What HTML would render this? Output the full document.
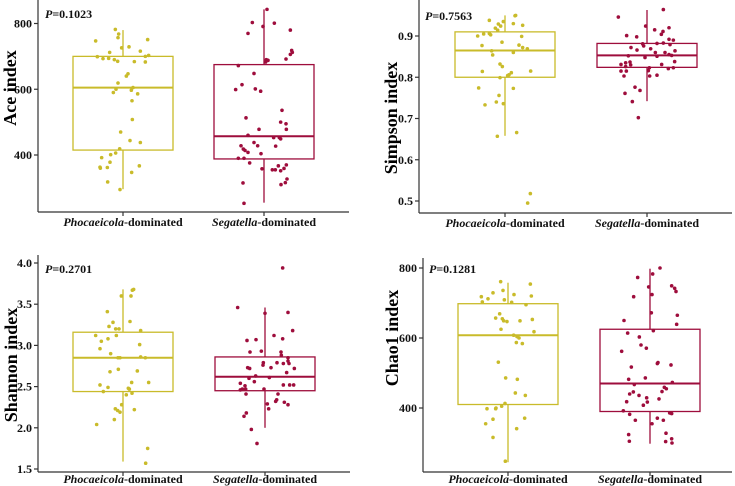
<!DOCTYPE html>
<html><head><meta charset="utf-8">
<style>
html,body{margin:0;padding:0;background:#fff;}
svg{display:block;font-family:"Liberation Serif",serif;}
.tk{font-size:12px;font-weight:bold;fill:#111;}
.yt{font-size:18px;font-weight:bold;fill:#000;}
.xl{font-size:12px;font-weight:bold;fill:#111;}
</style></head>
<body>
<svg id="chart" width="735" height="486" viewBox="0 0 735 486" xmlns="http://www.w3.org/2000/svg"></svg>
<script>
const groups = ["Phocaeicola", "Segatella"];
// Ace
const aceTicks = [400, 600, 800];
const aceBoxP = [296, 415, 605, 700, 780];
const aceBoxS = [255, 388, 457, 675, 843];
const aceValP = [782,768,757,747,751,729,726,712,716,699,693,694,690,685,684,683,700,703,647,640,619,600,590,605,597,586,565,508,470,444,438,419,406,401,392,378,363,360,362,367,347,318,295];
const aceJitP = [-23,-13,-15,-82,74,18,-4,-40,52,-77,-60,-43,-26,-16,34,67,67,77,15,10,-15,-21,-29,30,25,44,27,28,-7,21,52,-10,-22,-37,-64,-39,-69,-68,-47,49,26,-46,-9];
const aceValS = [843,803,801,791,770,780,718,712,706,692,690,688,683,672,648,614,599,601,594,536,513,500,495,478,478,460,453,453,449,438,428,428,427,418,414,408,404,390,390,376,358,355,355,352,359,370,367,315,327,316,310,253];
const aceJitS = [9,-35,31,-3,-48,79,83,85,79,66,7,12,5,-77,-30,-66,-85,-26,-10,54,-54,50,66,-15,67,-48,29,46,50,-30,-69,-19,35,-62,-57,-48,-9,-77,-60,-43,-6,25,34,50,60,67,43,-63,69,64,51,-60];
// Simpson
const simTicks = [0.5, 0.6, 0.7, 0.8, 0.9];
const simBoxP = [0.658, 0.800, 0.865, 0.910, 0.950];
const simBoxS = [0.742, 0.824, 0.853, 0.882, 0.963];
const simValP = [0.938,0.929,0.935,0.949,0.950,0.930,0.926,0.919,0.914,0.924,0.900,0.905,0.906,0.903,0.899,0.877,0.885,0.878,0.872,0.869,0.864,0.854,0.860,0.832,0.826,0.814,0.815,0.811,0.806,0.804,0.799,0.773,0.774,0.756,0.740,0.736,0.733,0.657,0.666,0.518,0.495];
const simJitP = [-47,-20,-5,30,32,25,53,-29,-22,-13,-82,-64,-47,-43,50,-69,-9,42,53,67,-40,-37,25,-15,-8,-68,77,19,12,8,-15,25,-79,-18,-26,-5,-60,-23,35,76,68];
const simValS = [0.964,0.946,0.924,0.920,0.915,0.911,0.904,0.901,0.898,0.892,0.890,0.883,0.882,0.881,0.879,0.876,0.872,0.869,0.866,0.860,0.860,0.864,0.855,0.853,0.852,0.851,0.848,0.837,0.835,0.838,0.831,0.831,0.830,0.826,0.823,0.823,0.821,0.816,0.815,0.815,0.803,0.803,0.805,0.776,0.768,0.761,0.741,0.702];
const simJitS = [49,-86,-4,66,23,48,43,-61,-31,66,79,49,30,-13,69,-10,-48,11,-30,25,54,84,66,74,-56,30,-6,-51,-64,83,44,-78,-49,-64,7,79,64,4,-78,-62,-69,8,30,-36,-21,-66,-44,-26];
// Shannon
const shaTicks = [1.5, 2.0, 2.5, 3.0, 3.5, 4.0];
const shaBoxP = [1.59, 2.44, 2.85, 3.16, 3.68];
const shaBoxS = [2.00, 2.45, 2.62, 2.86, 3.46];
const shaValP = [3.67,3.68,3.60,3.60,3.41,3.28,3.29,3.23,3.20,3.20,3.18,3.12,3.12,3.05,3.08,2.96,3.01,2.90,2.85,2.85,2.86,2.85,2.71,2.68,2.69,2.55,2.55,2.52,2.49,2.48,2.47,2.44,2.42,2.40,2.28,2.23,2.21,2.19,2.22,2.10,2.04,1.75,1.57];
const shaJitP = [28,32,24,-5,-47,-30,21,-42,-22,-12,53,-82,-20,-65,-45,-69,50,-37,-15,-9,53,67,-14,-39,43,77,26,-69,-45,16,19,-59,27,10,-4,-23,-16,-9,34,-26,-79,74,68];
const shaValS = [3.94,3.46,3.40,3.39,3.18,3.12,3.08,3.06,3.07,2.93,2.92,2.92,2.88,2.85,2.81,2.78,2.79,2.79,2.78,2.76,2.72,2.73,2.72,2.73,2.67,2.63,2.60,2.61,2.56,2.54,2.52,2.52,2.52,2.51,2.46,2.47,2.47,2.47,2.41,2.41,2.34,2.32,2.31,2.29,2.28,2.23,2.18,2.14,1.98,1.81];
const shaJitS = [53,-82,69,0,83,27,53,-54,-27,-11,-45,48,49,69,69,72,-5,36,55,-6,88,-52,-46,18,65,-28,-48,13,-32,-74,55,74,86,-60,-74,-68,-58,-3,-57,39,35,32,58,7,69,11,-56,-63,-41,-24];
// Chao1
const chaTicks = [400, 600, 800];
const chaBoxP = [245, 410, 608, 698, 758];
const chaBoxS = [298, 390, 470, 625, 798];
const chaValP = [761,754,736,729,720,718,712,709,724,702,703,695,669,657,655,649,647,649,653,625,618,608,604,600,587,584,531,486,482,443,436,413,405,400,398,398,371,368,355,341,316,248];
const chaJitP = [-22,67,-15,-45,70,-80,-60,-11,18,11,-77,54,-25,-37,-17,-13,-3,36,73,-21,78,17,27,33,25,43,-29,-7,28,22,52,-9,-19,-36,-37,-63,50,-45,-67,26,-45,-8];
const chaValS = [800,773,783,746,749,742,733,724,718,672,665,650,639,621,614,603,580,571,562,517,527,530,523,486,482,473,467,459,455,446,447,436,440,429,426,417,418,408,392,386,384,382,371,365,365,355,328,324,305,304,312,300];
const chaJitS = [30,-37,8,-4,65,74,78,6,-49,4,82,-78,80,10,-67,-32,-27,-11,-85,-56,22,24,63,-14,-64,67,-47,43,49,-50,36,-33,-61,-10,27,-8,-70,-20,-80,59,65,-61,22,-44,40,6,48,-64,-62,47,65,66];

const panels = [
  {name:"ace", title:"Ace index", p:"0.1023", ticks:aceTicks, fmt:v=>String(v), boxes:[aceBoxP,aceBoxS], vals:[aceValP,aceValS], jit:[aceJitP,aceJitS],
   ax:38, axR:349, axTop:0, axB:212, v0:400, y0:155, v1:800, y1:23.5, cx:[123,264], hw:50, tx:10, ty:88, px:45, py:18, xly:226},
  {name:"simpson", title:"Simpson index", p:"0.7563", ticks:simTicks, fmt:v=>v.toFixed(1), boxes:[simBoxP,simBoxS], vals:[simValP,simValS], jit:[simJitP,simJitS],
   ax:419, axR:732, axTop:0, axB:213, v0:0.5, y0:201, v1:0.9, y1:36, cx:[505,647], hw:50, tx:391, ty:118, px:425, py:20, xly:227},
  {name:"shannon", title:"Shannon index", p:"0.2701", ticks:shaTicks, fmt:v=>v.toFixed(1), boxes:[shaBoxP,shaBoxS], vals:[shaValP,shaValS], jit:[shaJitP,shaJitS],
   ax:38, axR:350, axTop:255, axB:472, v0:1.5, y0:469, v1:4.0, y1:263, cx:[123,265], hw:50, tx:11, ty:365, px:45, py:273, xly:483},
  {name:"chao1", title:"Chao1 index", p:"0.1281", ticks:chaTicks, fmt:v=>String(v), boxes:[chaBoxP,chaBoxS], vals:[chaValP,chaValS], jit:[chaJitP,chaJitS],
   ax:423, axR:732, axTop:258, axB:472, v0:400, y0:408, v1:800, y1:268, cx:[508,650], hw:50, tx:392, ty:338, px:429, py:273, xly:483}
];
const colors = ["#c9bb2a", "#9e0d3c"];
const NS = "http://www.w3.org/2000/svg";
const svg = document.getElementById("chart");
function mk(tag, attrs, parent){const e=document.createElementNS(NS,tag);for(const k in attrs)e.setAttribute(k,attrs[k]);(parent||svg).appendChild(e);return e;}

panels.forEach(P=>{
  const g = mk("g",{});
  
  
  const yS = v => P.y0 + (v-P.v0)*(P.y1-P.y0)/(P.v1-P.v0);
  // axes
  const ya = mk("line",{x1:P.ax,y1:P.axTop,x2:P.ax,y2:P.axB,stroke:"#333","stroke-width":1.2},g);
  
  
  const xa = mk("line",{x1:P.ax,y1:P.axB,x2:P.axR,y2:P.axB,stroke:"#333","stroke-width":1.2},g);
  
  
  P.ticks.forEach(t=>{
    const y=yS(t);
    mk("line",{x1:P.ax-4,y1:y,x2:P.ax,y2:y,stroke:"#333","stroke-width":1.2},g);
    const tl = mk("text",{x:P.ax-6,y:y+4,"text-anchor":"end",class:"tk"},g);
    tl.textContent = P.fmt(t);
    
    
  });
  // title
  const yt = mk("text",{x:P.tx,y:P.ty,"text-anchor":"middle",class:"yt",transform:`rotate(-90 ${P.tx} ${P.ty})`,dy:6},g);
  yt.textContent = P.title;
  
  
  // p value
  const pl = mk("text",{x:P.px,y:P.py,class:"tk"},g);
  pl.innerHTML = '<tspan font-style="italic">P</tspan>=' + P.p;
  
  
  groups.forEach((gn,i)=>{
    const cx=P.cx[i], b=P.boxes[i], c=colors[i];
    mk("line",{x1:cx,y1:P.axB,x2:cx,y2:P.axB+4,stroke:"#333","stroke-width":1.2},g);
    const xl = mk("text",{x:cx,y:P.xly,"text-anchor":"middle",class:"xl"},g);
    xl.innerHTML = '<tspan font-style="italic">'+gn+'</tspan>-dominated';
    
    
    const bg = mk("g",{},g);
    
    
    mk("line",{x1:cx,y1:yS(b[0]),x2:cx,y2:yS(b[1]),stroke:c,"stroke-width":1.3},bg);
    mk("line",{x1:cx,y1:yS(b[3]),x2:cx,y2:yS(b[4]),stroke:c,"stroke-width":1.3},bg);
    mk("rect",{x:cx-P.hw,y:yS(b[3]),width:2*P.hw,height:yS(b[1])-yS(b[3]),fill:"none",stroke:c,"stroke-width":1.3},bg);
    mk("line",{x1:cx-P.hw,y1:yS(b[2]),x2:cx+P.hw,y2:yS(b[2]),stroke:c,"stroke-width":2},bg);
    P.vals[i].forEach((v,k)=>{
      const d = mk("circle",{cx:cx+P.jit[i][k]/150*P.hw,cy:yS(v),r:1.8,fill:c},bg);
      
      
    });
  });
});
</script>
</body></html>
